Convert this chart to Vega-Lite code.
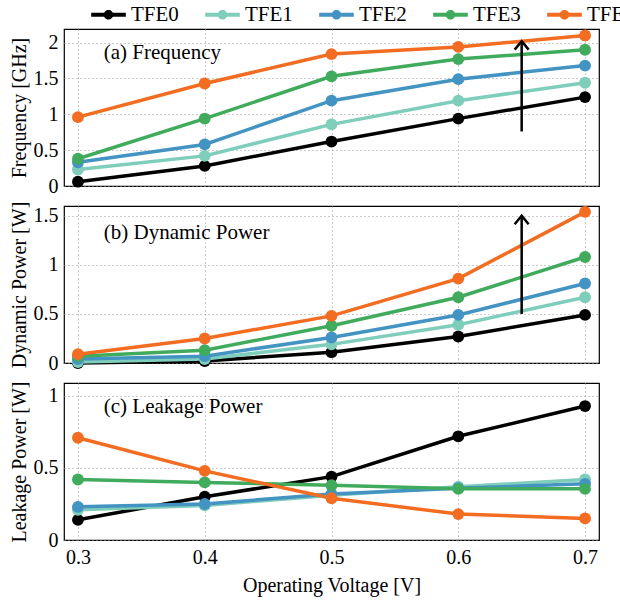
{
  "$schema": "https://vega.github.io/schema/vega-lite/v6.json",
  "padding": {"left": 8, "top": 4, "right": 5, "bottom": 5},
  "config": {
    "font": "Liberation Serif",
    "view": {"stroke": "black", "strokeWidth": 1.2},
    "axis": {"titleFont": "Liberation Serif", "labelFont": "Liberation Serif, serif", "labelFontSize": 20, "titleFontSize": 20, "titleFontWeight": "normal", "labelColor": "black", "titleColor": "black", "domain": false, "ticks": false, "labelPadding": 6, "gridColor": "#999", "gridDash": [1, 3], "gridWidth": 1, "titlePadding": 4},
    "legend": {"orient": "none", "direction": "horizontal", "legendX": 34, "legendY": -25, "title": null, "labelFont": "Liberation Serif, serif", "labelFontSize": 21, "labelColor": "black", "symbolType": "M-2,-0.22L2,-0.22L2,0.22L-2,0.22Z M0.55,0A0.55,0.55 0 1,1 -0.55,0A0.55,0.55 0 1,1 0.55,0Z", "symbolSize": 300, "symbolStrokeWidth": 0, "symbolOpacity": 1, "labelOffset": 12, "columnPadding": 26}
  },
  "datasets": {
    "main": [
      {"V": 0.3, "s": "TFE0", "freq": 0.06, "dyn": 0.00, "leak": 0.14},
      {"V": 0.4, "s": "TFE0", "freq": 0.28, "dyn": 0.02, "leak": 0.30},
      {"V": 0.5, "s": "TFE0", "freq": 0.62, "dyn": 0.11, "leak": 0.44},
      {"V": 0.6, "s": "TFE0", "freq": 0.94, "dyn": 0.27, "leak": 0.72},
      {"V": 0.7, "s": "TFE0", "freq": 1.24, "dyn": 0.49, "leak": 0.93},
      {"V": 0.3, "s": "TFE1", "freq": 0.23, "dyn": 0.01, "leak": 0.21},
      {"V": 0.4, "s": "TFE1", "freq": 0.42, "dyn": 0.04, "leak": 0.24},
      {"V": 0.5, "s": "TFE1", "freq": 0.86, "dyn": 0.19, "leak": 0.31},
      {"V": 0.6, "s": "TFE1", "freq": 1.19, "dyn": 0.39, "leak": 0.37},
      {"V": 0.7, "s": "TFE1", "freq": 1.44, "dyn": 0.67, "leak": 0.42},
      {"V": 0.3, "s": "TFE2", "freq": 0.33, "dyn": 0.04, "leak": 0.23},
      {"V": 0.4, "s": "TFE2", "freq": 0.58, "dyn": 0.07, "leak": 0.25},
      {"V": 0.5, "s": "TFE2", "freq": 1.19, "dyn": 0.26, "leak": 0.32},
      {"V": 0.6, "s": "TFE2", "freq": 1.49, "dyn": 0.49, "leak": 0.36},
      {"V": 0.7, "s": "TFE2", "freq": 1.68, "dyn": 0.81, "leak": 0.39},
      {"V": 0.3, "s": "TFE3", "freq": 0.38, "dyn": 0.07, "leak": 0.42},
      {"V": 0.4, "s": "TFE3", "freq": 0.94, "dyn": 0.13, "leak": 0.40},
      {"V": 0.5, "s": "TFE3", "freq": 1.53, "dyn": 0.38, "leak": 0.38},
      {"V": 0.6, "s": "TFE3", "freq": 1.77, "dyn": 0.67, "leak": 0.355},
      {"V": 0.7, "s": "TFE3", "freq": 1.90, "dyn": 1.08, "leak": 0.355},
      {"V": 0.3, "s": "TFE4", "freq": 0.96, "dyn": 0.09, "leak": 0.71},
      {"V": 0.4, "s": "TFE4", "freq": 1.43, "dyn": 0.25, "leak": 0.48},
      {"V": 0.5, "s": "TFE4", "freq": 1.84, "dyn": 0.48, "leak": 0.29},
      {"V": 0.6, "s": "TFE4", "freq": 1.94, "dyn": 0.86, "leak": 0.18},
      {"V": 0.7, "s": "TFE4", "freq": 2.10, "dyn": 1.54, "leak": 0.15}
    ]
  },
  "spacing": 20,
  "bounds": "flush",
  "vconcat": [
    {
      "width": 535, "height": 157,
      "encoding": {
        "x": {"field": "V", "type": "quantitative", "scale": {"domain": [0.289, 0.711], "nice": false, "zero": false}, "axis": {"values": [0.3, 0.4, 0.5, 0.6, 0.7], "labels": false, "title": null}},
        "y": {"field": "freq", "type": "quantitative", "scale": {"domain": [0, 2.19], "nice": false}, "axis": {"values": [0, 0.5, 1, 1.5, 2], "format": "~g", "title": "Frequency [GHz]", "labelFont": "Liberation Serif, serif"}}
      },
      "layer": [
        {"data": {"name": "main"}, "mark": {"type": "line", "strokeWidth": 3.5}, "encoding": {"color": {"field": "s", "type": "nominal", "scale": {"domain": ["TFE0", "TFE1", "TFE2", "TFE3", "TFE4"], "range": ["#000000", "#7fcdbb", "#4393c3", "#41ab5d", "#f26c21"]}, "legend": {"labelFont": "Liberation Serif, serif"}}}},
        {"data": {"name": "main"}, "mark": {"type": "point", "filled": true, "size": 140, "opacity": 1}, "encoding": {"color": {"field": "s", "type": "nominal"}}},
        {"data": {"values": [{"V": 0.65, "freq": 0.76, "freq2": 2.0}]}, "mark": {"type": "rule", "strokeWidth": 2.5, "color": "black"}, "encoding": {"y2": {"field": "freq2"}}},
        {"data": {"values": [{"V": 0.65, "freq": 2.02}]}, "mark": {"type": "point", "shape": "M-1,1.2L0,0L1,1.2", "filled": false, "stroke": "black", "strokeWidth": 2.5, "size": 196, "opacity": 1}},
        {"data": {"values": [{"V": 0.3204, "freq": 1.86, "t": "(a) Frequency"}]}, "mark": {"type": "text", "align": "left", "baseline": "middle", "fontSize": 21, "color": "black", "font": "Liberation Serif"}, "encoding": {"text": {"field": "t"}}}
      ]
    },
    {
      "width": 535, "height": 157,
      "encoding": {
        "x": {"field": "V", "type": "quantitative", "scale": {"domain": [0.289, 0.711], "nice": false, "zero": false}, "axis": {"values": [0.3, 0.4, 0.5, 0.6, 0.7], "labels": false, "title": null}},
        "y": {"field": "dyn", "type": "quantitative", "scale": {"domain": [0, 1.6], "nice": false}, "axis": {"values": [0, 0.5, 1, 1.5], "format": "~g", "title": "Dynamic Power [W]", "labelFont": "Liberation Serif, serif"}}
      },
      "layer": [
        {"data": {"name": "main"}, "mark": {"type": "line", "strokeWidth": 3.5}, "encoding": {"color": {"field": "s", "type": "nominal"}}},
        {"data": {"name": "main"}, "mark": {"type": "point", "filled": true, "size": 140, "opacity": 1}, "encoding": {"color": {"field": "s", "type": "nominal"}}},
        {"data": {"values": [{"V": 0.65, "dyn": 0.5, "dyn2": 1.48}]}, "mark": {"type": "rule", "strokeWidth": 2.5, "color": "black"}, "encoding": {"y2": {"field": "dyn2"}}},
        {"data": {"values": [{"V": 0.65, "dyn": 1.5}]}, "mark": {"type": "point", "shape": "M-1,1.2L0,0L1,1.2", "filled": false, "stroke": "black", "strokeWidth": 2.5, "size": 196, "opacity": 1}},
        {"data": {"values": [{"V": 0.3204, "dyn": 1.32, "t": "(b) Dynamic Power"}]}, "mark": {"type": "text", "align": "left", "baseline": "middle", "fontSize": 21, "color": "black", "font": "Liberation Serif"}, "encoding": {"text": {"field": "t"}}}
      ]
    },
    {
      "width": 535, "height": 157,
      "encoding": {
        "x": {"field": "V", "type": "quantitative", "scale": {"domain": [0.289, 0.711], "nice": false, "zero": false}, "axis": {"values": [0.3, 0.4, 0.5, 0.6, 0.7], "format": ".1f", "title": "Operating Voltage [V]", "labelPadding": 7, "titlePadding": 8, "labelFont": "Liberation Serif, serif"}},
        "y": {"field": "leak", "type": "quantitative", "scale": {"domain": [0, 1.09], "nice": false}, "axis": {"values": [0, 0.5, 1], "format": "~g", "title": "Leakage Power [W]", "labelFont": "Liberation Serif, serif"}}
      },
      "layer": [
        {"data": {"name": "main"}, "mark": {"type": "line", "strokeWidth": 3.5}, "encoding": {"color": {"field": "s", "type": "nominal"}}},
        {"data": {"name": "main"}, "mark": {"type": "point", "filled": true, "size": 140, "opacity": 1}, "encoding": {"color": {"field": "s", "type": "nominal"}}},
        {"data": {"values": [{"V": 0.3204, "leak": 0.92, "t": "(c) Leakage Power"}]}, "mark": {"type": "text", "align": "left", "baseline": "middle", "fontSize": 21, "color": "black", "font": "Liberation Serif"}, "encoding": {"text": {"field": "t"}}}
      ]
    }
  ]
}
